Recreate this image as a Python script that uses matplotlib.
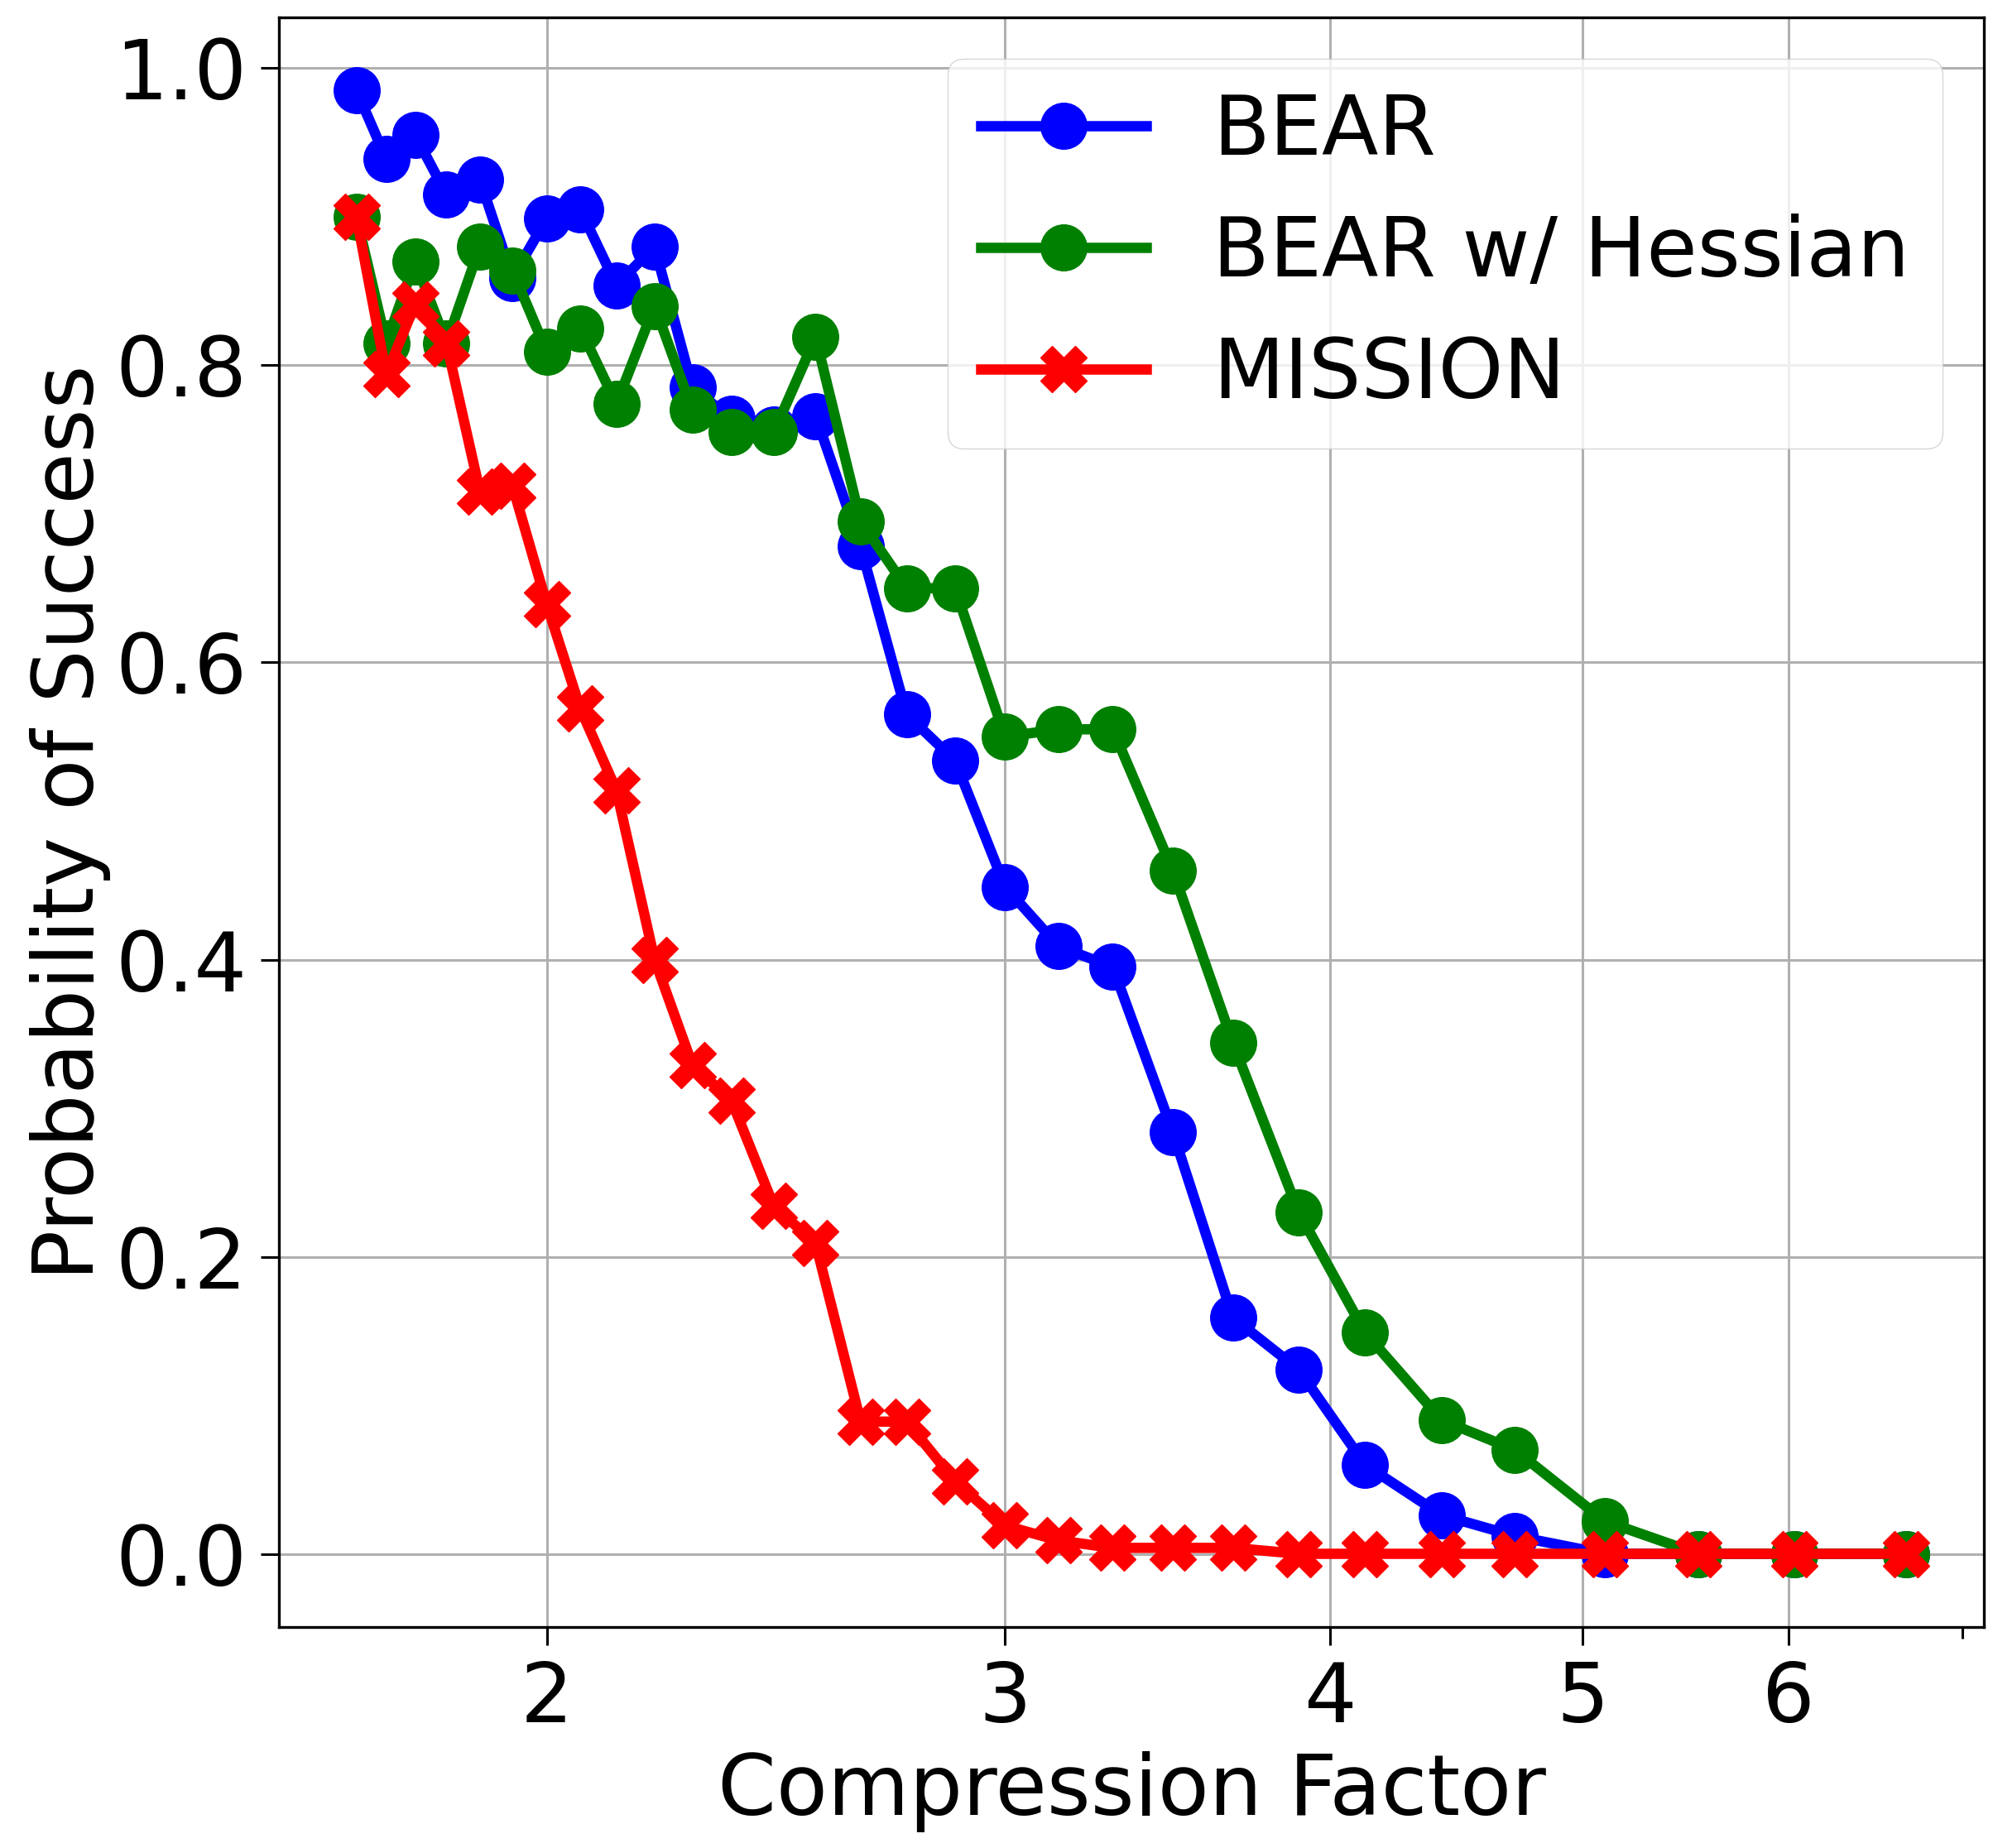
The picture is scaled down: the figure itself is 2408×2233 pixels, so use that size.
import matplotlib
matplotlib.use("Agg")
import matplotlib.pyplot as plt
from matplotlib.ticker import NullFormatter

# compression factor (x positions)
factor = [1.69, 1.735, 1.78, 1.83, 1.885, 1.94, 2.0, 2.06, 2.127, 2.2,
          2.275, 2.355, 2.445, 2.537, 2.64, 2.75, 2.87, 3.0, 3.145, 3.30,
          3.48, 3.67, 3.89, 4.125, 4.415, 4.71, 5.10, 5.54, 6.03, 6.66]

bear = [0.985, 0.939, 0.955, 0.915, 0.925, 0.859, 0.899, 0.905, 0.854, 0.880,
        0.785, 0.764, 0.757, 0.766, 0.678, 0.565, 0.534, 0.449, 0.409, 0.395,
        0.284, 0.159, 0.124, 0.060, 0.026, 0.012, 0.0, 0.0, 0.0, 0.0]

bear_hessian = [0.900, 0.815, 0.870, 0.815, 0.880, 0.864, 0.809, 0.825, 0.774, 0.840,
                0.770, 0.755, 0.755, 0.819, 0.695, 0.650, 0.650, 0.550, 0.555, 0.555,
                0.460, 0.344, 0.230, 0.149, 0.090, 0.070, 0.022, 0.0, 0.0, 0.0]

mission = [0.900, 0.794, 0.841, 0.815, 0.715, 0.719, 0.639, 0.569, 0.514, 0.400,
           0.329, 0.305, 0.234, 0.209, 0.089, 0.089, 0.049, 0.019, 0.009, 0.004,
           0.004, 0.004, 0.0, 0.0, 0.0, 0.0, 0.0, 0.0, 0.0, 0.0]

xticks = [2, 3, 4, 5, 6]

fig = plt.figure(figsize=(24.08, 22.33), dpi=100)
ax = fig.add_subplot(111)
fig.subplots_adjust(left=0.14, right=0.9954, top=0.9906, bottom=0.1196)

lw = 9
ms = 40
ax.plot(factor, bear, 'b-o', lw=lw, ms=ms, label='BEAR')
ax.plot(factor, bear_hessian, 'g-o', lw=lw, ms=ms, label='BEAR w/ Hessian')
ax.plot(factor, mission, 'r-X', lw=lw, ms=ms, label='MISSION')

ax.set_xscale('log')
ax.set_xticks(xticks)
ax.set_xticklabels([str(t) for t in xticks])
ax.xaxis.set_minor_formatter(NullFormatter())

ax.grid(True, which='major', color='#b0b0b0', lw=2.2)
ax.tick_params(axis='both', which='major', labelsize=72, length=16, width=2.2, pad=12)
ax.tick_params(axis='both', which='minor', length=10, width=2.2)
for s in ax.spines.values():
    s.set_linewidth(2.4)

ax.set_xlabel('Compression Factor', fontsize=73, labelpad=10)
ax.set_ylabel('Probability of Success', fontsize=73)
ax.legend(loc='upper right', fontsize=72)

fig.savefig('out.png', dpi=100)
